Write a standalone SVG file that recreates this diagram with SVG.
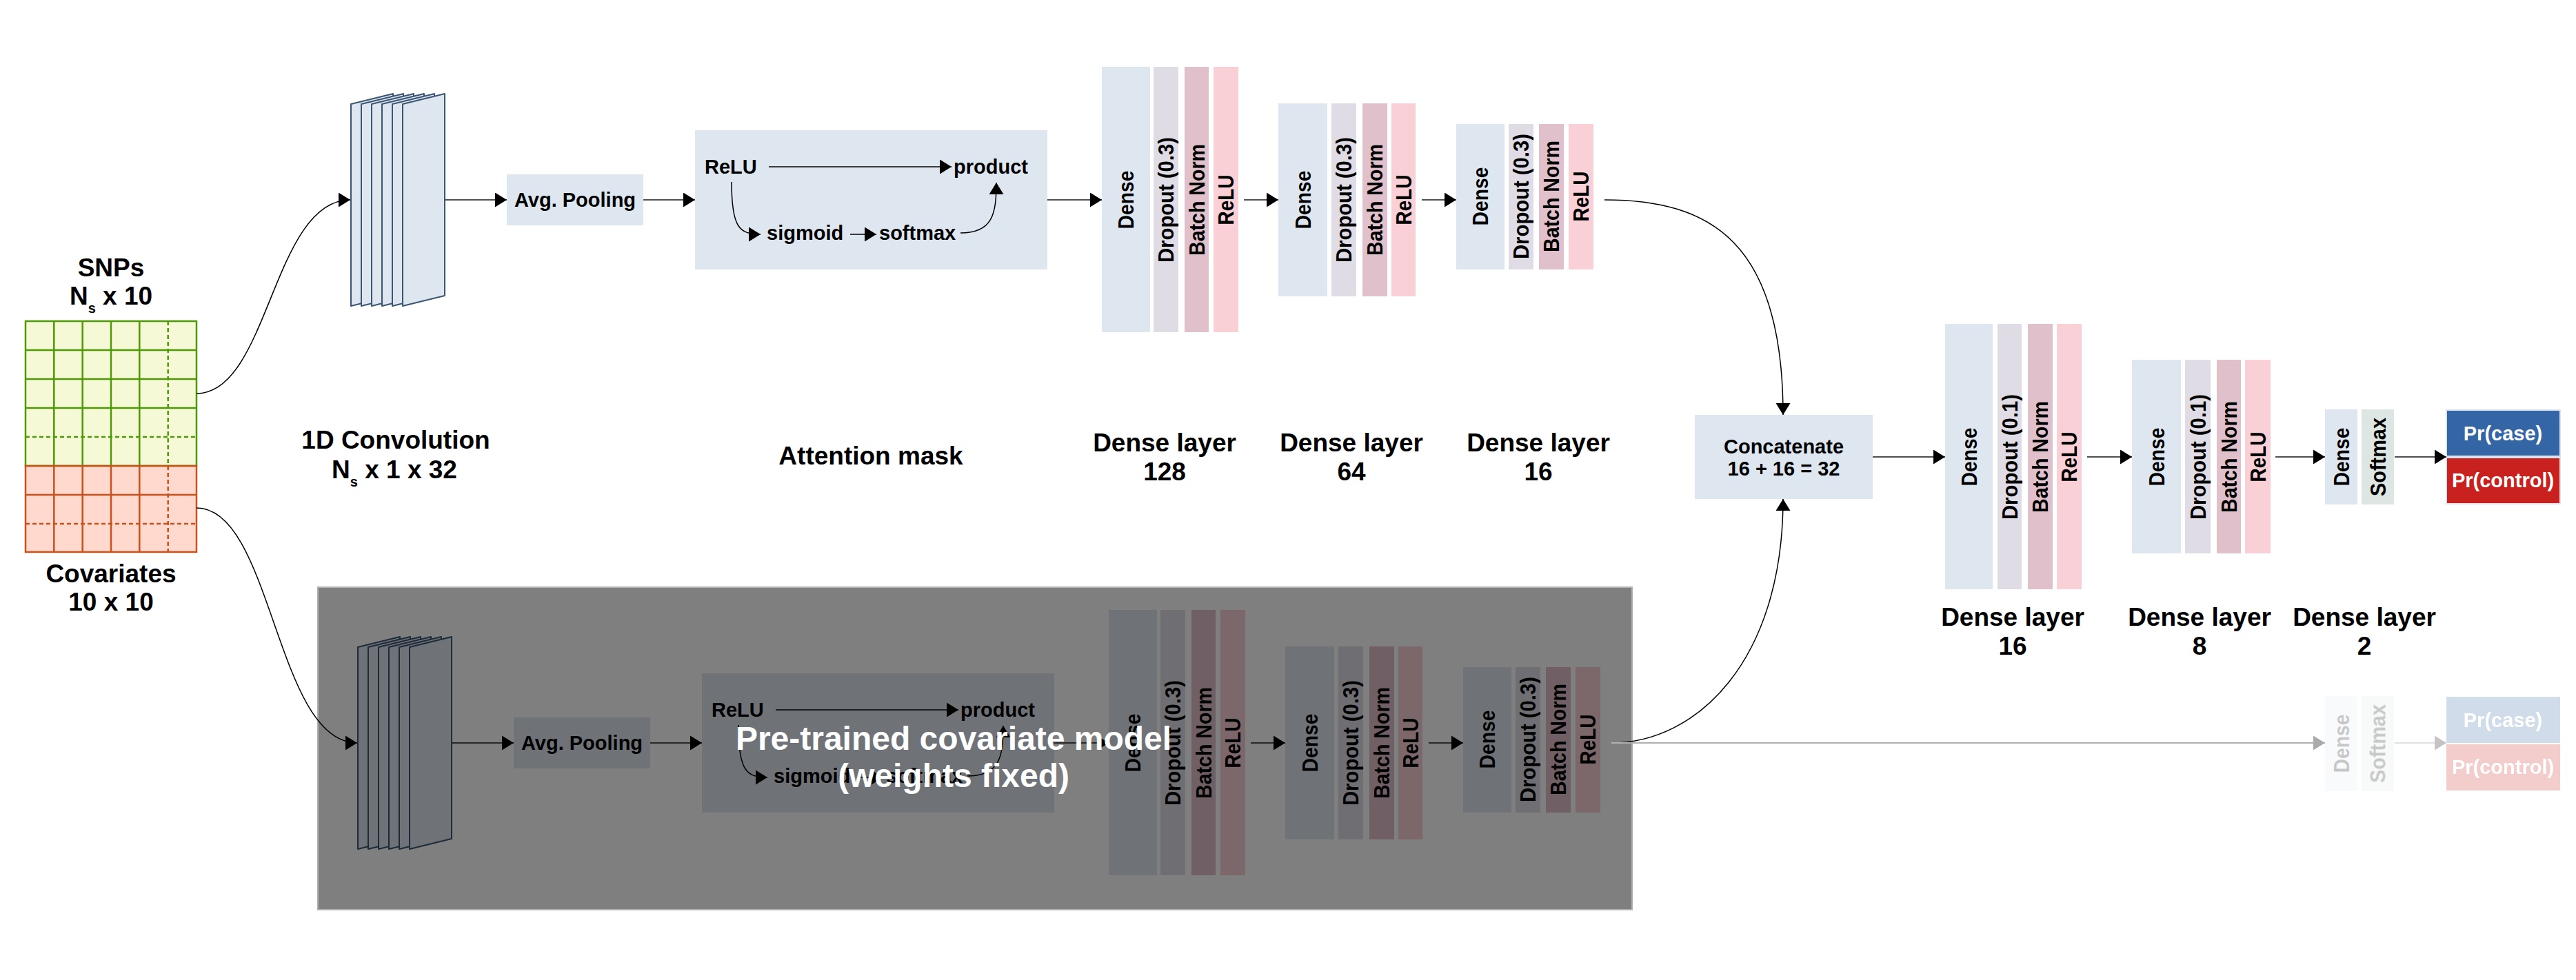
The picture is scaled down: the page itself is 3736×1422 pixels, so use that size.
<svg xmlns="http://www.w3.org/2000/svg" width="3736" height="1422" viewBox="0 0 3736 1422">
<defs>
<style>
text { font-family: "Liberation Sans", Arial, sans-serif; font-weight: bold; fill: #000; }
.lbl { font-size: 37px; text-anchor: middle; }
.in { font-size: 29px; }
.inc { font-size: 29px; text-anchor: middle; }
.vt { font-size: 31px; text-anchor: middle; }
.wt { fill: #fff; }
.dense { fill: #dee6ef; }
.drop { fill: #dfdce5; }
.bn { fill: #e0c1cb; }
.relu { fill: #f8d0d6; }
.soft { fill: #dde6e3; }
.box { fill: #dee6ef; }
.sheet { fill: #dee6ef; stroke: #3a5673; stroke-width: 2; stroke-linejoin: round; }
.ln { fill: none; stroke: #505050; stroke-width: 2; marker-end: url(#ah); }
.cv { fill: none; stroke: #000; stroke-width: 1.5; marker-end: url(#ah); }
.gline { fill: none; stroke: #b0b0b0; stroke-width: 2; marker-end: url(#ahg); }
.gr { stroke: #4e9a06; stroke-width: 2.5; fill: none; }
.rd { stroke: #c9511b; stroke-width: 2.5; fill: none; }
.dash { stroke-dasharray: 6 4; }
</style>
<marker id="ah" markerUnits="userSpaceOnUse" markerWidth="18" markerHeight="22" refX="17" refY="10.5" orient="auto">
<path d="M0,0 L17,10.5 L0,21 z" fill="#000"/>
</marker>
<marker id="ahg" markerUnits="userSpaceOnUse" markerWidth="18" markerHeight="22" refX="17" refY="10.5" orient="auto">
<path d="M0,0 L17,10.5 L0,21 z" fill="#aaaaaa"/>
</marker>
<marker id="ahl" markerUnits="userSpaceOnUse" markerWidth="18" markerHeight="22" refX="17" refY="10.5" orient="auto">
<path d="M0,0 L17,10.5 L0,21 z" fill="#c4c4c4"/>
</marker>
</defs>

<rect x="0" y="0" width="3736" height="1422" fill="#fff"/>

<!-- input matrix: SNPs (green) over covariates (red) -->
<g id="input">
<rect x="37" y="466" width="248" height="210" fill="#f6f9d5"/>
<rect x="37" y="676" width="248" height="125" fill="#ffd8ce"/>
<g class="gr">
<path d="M78.3,466V676M119.7,466V676M161,466V676M202.3,466V676"/>
<path d="M37,508H285M37,550H285M37,592H285"/>
<path class="dash" d="M243.7,466V676M37,634H285"/>
<rect x="37" y="466" width="248" height="210"/>
</g>
<g class="rd">
<path d="M78.3,676V801M119.7,676V801M161,676V801M202.3,676V801"/>
<path d="M37,718H285"/>
<path class="dash" d="M243.7,676V801M37,760H285"/>
<rect x="37" y="676" width="248" height="125"/>
</g>
<text class="lbl" x="161" y="401">SNPs</text>
<text class="lbl" x="161" y="442">N<tspan font-size="20" dy="12">s</tspan><tspan dy="-12"> x 10</tspan></text>
<text class="lbl" x="161" y="845">Covariates</text>
<text class="lbl" x="161" y="886">10 x 10</text>
</g>

<!-- SNP branch -->
<g id="conv">
<path class="sheet" d="M509,151L570,136V429L509,444z"/>
<path class="sheet" d="M524,151L585,136V429L524,444z"/>
<path class="sheet" d="M539,151L600,136V429L539,444z"/>
<path class="sheet" d="M554,151L615,136V429L554,444z"/>
<path class="sheet" d="M569,151L630,136V429L569,444z"/>
<path class="sheet" d="M584,151L645,136V429L584,444z"/>
</g>
<g id="conv-label">
<text class="lbl" x="574" y="651">1D Convolution</text>
<text class="lbl" x="572" y="694">N<tspan font-size="20" dy="12">s</tspan><tspan dy="-12"> x 1 x 32</tspan></text>
</g>
<g id="avgpool">
<rect class="box" x="735" y="253" width="198" height="74"/>
<text class="inc" x="834" y="300">Avg. Pooling</text>
</g>
<g id="attention">
<rect class="box" x="1008" y="189" width="511" height="202"/>
<text class="in" x="1022" y="252">ReLU</text>
<text class="in" x="1383" y="252">product</text>
<text class="in" x="1112" y="348">sigmoid</text>
<text class="in" x="1275" y="348">softmax</text>
<path class="cv" d="M1115,242H1380"/>
<path class="cv" d="M1061,264C1061,330 1072,340 1103,340"/>
<path class="cv" d="M1233,340H1271"/>
<path class="cv" d="M1393,338C1440,338 1445,310 1445,265"/>
<text class="lbl" x="1263" y="674">Attention mask</text>
</g>
<g id="dense128">
<rect class="dense" x="1598" y="97" width="70" height="385"/>
<rect class="drop" x="1673" y="97" width="36" height="385"/>
<rect class="bn" x="1718" y="97" width="35" height="385"/>
<rect class="relu" x="1760" y="97" width="36" height="385"/>
<text class="vt" x="1633" y="301" textLength="85" lengthAdjust="spacingAndGlyphs" transform="rotate(-90 1633 290)">Dense</text>
<text class="vt" x="1691" y="301" textLength="182" lengthAdjust="spacingAndGlyphs" transform="rotate(-90 1691 290)">Dropout (0.3)</text>
<text class="vt" x="1735.5" y="301" textLength="162" lengthAdjust="spacingAndGlyphs" transform="rotate(-90 1735.5 290)">Batch Norm</text>
<text class="vt" x="1778" y="301" textLength="73" lengthAdjust="spacingAndGlyphs" transform="rotate(-90 1778 290)">ReLU</text>
<text class="lbl" x="1689" y="655">Dense layer</text>
<text class="lbl" x="1689" y="697">128</text>
</g>
<g id="dense64">
<rect class="dense" x="1854" y="150" width="71" height="280"/>
<rect class="drop" x="1931" y="150" width="36" height="280"/>
<rect class="bn" x="1976" y="150" width="36" height="280"/>
<rect class="relu" x="2018" y="150" width="35" height="280"/>
<text class="vt" x="1889.5" y="301" textLength="85" lengthAdjust="spacingAndGlyphs" transform="rotate(-90 1889.5 290)">Dense</text>
<text class="vt" x="1949" y="301" textLength="182" lengthAdjust="spacingAndGlyphs" transform="rotate(-90 1949 290)">Dropout (0.3)</text>
<text class="vt" x="1994" y="301" textLength="162" lengthAdjust="spacingAndGlyphs" transform="rotate(-90 1994 290)">Batch Norm</text>
<text class="vt" x="2035.5" y="301" textLength="73" lengthAdjust="spacingAndGlyphs" transform="rotate(-90 2035.5 290)">ReLU</text>
<text class="lbl" x="1960" y="655">Dense layer</text>
<text class="lbl" x="1960" y="697">64</text>
</g>
<g id="dense16a">
<rect class="dense" x="2112" y="180" width="70" height="211"/>
<rect class="drop" x="2188" y="180" width="36" height="211"/>
<rect class="bn" x="2232" y="180" width="36" height="211"/>
<rect class="relu" x="2275" y="180" width="36" height="211"/>
<text class="vt" x="2147" y="296" textLength="85" lengthAdjust="spacingAndGlyphs" transform="rotate(-90 2147 285)">Dense</text>
<text class="vt" x="2206" y="296" textLength="182" lengthAdjust="spacingAndGlyphs" transform="rotate(-90 2206 285)">Dropout (0.3)</text>
<text class="vt" x="2250" y="296" textLength="162" lengthAdjust="spacingAndGlyphs" transform="rotate(-90 2250 285)">Batch Norm</text>
<text class="vt" x="2293" y="296" textLength="73" lengthAdjust="spacingAndGlyphs" transform="rotate(-90 2293 285)">ReLU</text>
<text class="lbl" x="2231" y="655">Dense layer</text>
<text class="lbl" x="2231" y="697">16</text>
</g>

<!-- covariate branch (frozen copy) -->
<g id="covariate-model" transform="translate(10 788)">
<g id="cov-conv">
<path class="sheet" d="M509,151L570,136V429L509,444z"/>
<path class="sheet" d="M524,151L585,136V429L524,444z"/>
<path class="sheet" d="M539,151L600,136V429L539,444z"/>
<path class="sheet" d="M554,151L615,136V429L554,444z"/>
<path class="sheet" d="M569,151L630,136V429L569,444z"/>
<path class="sheet" d="M584,151L645,136V429L584,444z"/>
</g>
<g id="cov-avgpool">
<rect class="box" x="735" y="253" width="198" height="74"/>
<text class="inc" x="834" y="300">Avg. Pooling</text>
</g>
<g id="cov-attention">
<rect class="box" x="1008" y="189" width="511" height="202"/>
<text class="in" x="1022" y="252">ReLU</text>
<text class="in" x="1383" y="252">product</text>
<text class="in" x="1112" y="348">sigmoid</text>
<text class="in" x="1275" y="348">softmax</text>
<path class="cv" d="M1115,242H1380"/>
<path class="cv" d="M1061,264C1061,330 1072,340 1103,340"/>
<path class="cv" d="M1233,340H1271"/>
<path class="cv" d="M1393,338C1440,338 1445,310 1445,265"/>
</g>
<g id="cov-dense128">
<rect class="dense" x="1598" y="97" width="70" height="385"/>
<rect class="drop" x="1673" y="97" width="36" height="385"/>
<rect class="bn" x="1718" y="97" width="35" height="385"/>
<rect class="relu" x="1760" y="97" width="36" height="385"/>
<text class="vt" x="1633" y="301" textLength="85" lengthAdjust="spacingAndGlyphs" transform="rotate(-90 1633 290)">Dense</text>
<text class="vt" x="1691" y="301" textLength="182" lengthAdjust="spacingAndGlyphs" transform="rotate(-90 1691 290)">Dropout (0.3)</text>
<text class="vt" x="1735.5" y="301" textLength="162" lengthAdjust="spacingAndGlyphs" transform="rotate(-90 1735.5 290)">Batch Norm</text>
<text class="vt" x="1778" y="301" textLength="73" lengthAdjust="spacingAndGlyphs" transform="rotate(-90 1778 290)">ReLU</text>
</g>
<g id="cov-dense64">
<rect class="dense" x="1854" y="150" width="71" height="280"/>
<rect class="drop" x="1931" y="150" width="36" height="280"/>
<rect class="bn" x="1976" y="150" width="36" height="280"/>
<rect class="relu" x="2018" y="150" width="35" height="280"/>
<text class="vt" x="1889.5" y="301" textLength="85" lengthAdjust="spacingAndGlyphs" transform="rotate(-90 1889.5 290)">Dense</text>
<text class="vt" x="1949" y="301" textLength="182" lengthAdjust="spacingAndGlyphs" transform="rotate(-90 1949 290)">Dropout (0.3)</text>
<text class="vt" x="1994" y="301" textLength="162" lengthAdjust="spacingAndGlyphs" transform="rotate(-90 1994 290)">Batch Norm</text>
<text class="vt" x="2035.5" y="301" textLength="73" lengthAdjust="spacingAndGlyphs" transform="rotate(-90 2035.5 290)">ReLU</text>
</g>
<g id="cov-dense16">
<rect class="dense" x="2112" y="180" width="70" height="211"/>
<rect class="drop" x="2188" y="180" width="36" height="211"/>
<rect class="bn" x="2232" y="180" width="36" height="211"/>
<rect class="relu" x="2275" y="180" width="36" height="211"/>
<text class="vt" x="2147" y="296" textLength="85" lengthAdjust="spacingAndGlyphs" transform="rotate(-90 2147 285)">Dense</text>
<text class="vt" x="2206" y="296" textLength="182" lengthAdjust="spacingAndGlyphs" transform="rotate(-90 2206 285)">Dropout (0.3)</text>
<text class="vt" x="2250" y="296" textLength="162" lengthAdjust="spacingAndGlyphs" transform="rotate(-90 2250 285)">Batch Norm</text>
<text class="vt" x="2293" y="296" textLength="73" lengthAdjust="spacingAndGlyphs" transform="rotate(-90 2293 285)">ReLU</text>
</g>
<g id="cov-connectors">
<path class="ln" d="M645,290H735"/>
<path class="ln" d="M933,290H1008"/>
<path class="ln" d="M1519,290H1598"/>
<path class="ln" d="M1804,290H1854"/>
<path class="ln" d="M2062,290H2112"/>
</g>
</g>

<!-- shade over the frozen model -->
<g id="frozen-shade">
<rect x="461" y="852" width="1906" height="468" fill="#000" fill-opacity="0.5" stroke="#b0b0b0" stroke-width="2"/>
<text class="wt" x="1383" y="1088" font-size="48" text-anchor="middle">Pre-trained covariate model</text>
<text class="wt" x="1383" y="1142" font-size="48" text-anchor="middle">(weights fixed)</text>
</g>

<!-- merged head -->
<g id="concat">
<rect class="box" x="2458" y="602" width="258" height="122"/>
<text class="inc" x="2587" y="658">Concatenate</text>
<text class="inc" x="2587" y="690">16 + 16 = 32</text>
</g>
<g id="dense16b">
<rect class="dense" x="2821" y="470" width="69" height="385"/>
<rect class="drop" x="2897" y="470" width="35" height="385"/>
<rect class="bn" x="2941" y="470" width="36" height="385"/>
<rect class="relu" x="2983" y="470" width="36" height="385"/>
<text class="vt" x="2855.5" y="674" textLength="85" lengthAdjust="spacingAndGlyphs" transform="rotate(-90 2855.5 663)">Dense</text>
<text class="vt" x="2914.5" y="674" textLength="182" lengthAdjust="spacingAndGlyphs" transform="rotate(-90 2914.5 663)">Dropout (0.1)</text>
<text class="vt" x="2959" y="674" textLength="162" lengthAdjust="spacingAndGlyphs" transform="rotate(-90 2959 663)">Batch Norm</text>
<text class="vt" x="3001" y="674" textLength="73" lengthAdjust="spacingAndGlyphs" transform="rotate(-90 3001 663)">ReLU</text>
<text class="lbl" x="2919" y="908">Dense layer</text>
<text class="lbl" x="2919" y="950">16</text>
</g>
<g id="dense8">
<rect class="dense" x="3092" y="522" width="71" height="281"/>
<rect class="drop" x="3169" y="522" width="37" height="281"/>
<rect class="bn" x="3215" y="522" width="35" height="281"/>
<rect class="relu" x="3256" y="522" width="37" height="281"/>
<text class="vt" x="3127.5" y="674" textLength="85" lengthAdjust="spacingAndGlyphs" transform="rotate(-90 3127.5 663)">Dense</text>
<text class="vt" x="3187.5" y="674" textLength="182" lengthAdjust="spacingAndGlyphs" transform="rotate(-90 3187.5 663)">Dropout (0.1)</text>
<text class="vt" x="3232.5" y="674" textLength="162" lengthAdjust="spacingAndGlyphs" transform="rotate(-90 3232.5 663)">Batch Norm</text>
<text class="vt" x="3274.5" y="674" textLength="73" lengthAdjust="spacingAndGlyphs" transform="rotate(-90 3274.5 663)">ReLU</text>
<text class="lbl" x="3190" y="908">Dense layer</text>
<text class="lbl" x="3190" y="950">8</text>
</g>
<g id="dense2">
<rect class="dense" x="3372" y="594" width="47" height="138"/>
<rect class="soft" x="3425" y="594" width="47" height="138"/>
<text class="vt" x="3395.5" y="674" textLength="85" lengthAdjust="spacingAndGlyphs" transform="rotate(-90 3395.5 663)">Dense</text>
<text class="vt" x="3448.5" y="674" textLength="114" lengthAdjust="spacingAndGlyphs" transform="rotate(-90 3448.5 663)">Softmax</text>
<text class="lbl" x="3429" y="908">Dense layer</text>
<text class="lbl" x="3429" y="950">2</text>
</g>
<g id="output">
<rect x="3548" y="595" width="165" height="67" fill="#3465a4" stroke="#dae3ee" stroke-width="2"/>
<rect x="3548" y="664" width="165" height="67" fill="#c9211e" stroke="#dae3ee" stroke-width="2"/>
<text class="inc wt" x="3630" y="639">Pr(case)</text>
<text class="inc wt" x="3630" y="707">Pr(control)</text>
</g>

<!-- covariate-only head (faded) -->
<g id="cov-head" opacity="0.22">
<rect class="dense" x="3372" y="1010" width="47" height="138"/>
<rect class="soft" x="3425" y="1010" width="47" height="138"/>
<text class="vt" x="3395.5" y="1090" textLength="85" lengthAdjust="spacingAndGlyphs" transform="rotate(-90 3395.5 1079)">Dense</text>
<text class="vt" x="3448.5" y="1090" textLength="114" lengthAdjust="spacingAndGlyphs" transform="rotate(-90 3448.5 1079)">Softmax</text>
</g>
<g id="cov-output" opacity="0.22">
<rect x="3548" y="1011" width="165" height="67" fill="#3465a4"/>
<rect x="3548" y="1080" width="165" height="67" fill="#c9211e"/>
</g>
<g id="cov-output-text">
<text class="inc wt" x="3630" y="1055">Pr(case)</text>
<text class="inc wt" x="3630" y="1123">Pr(control)</text>
</g>

<!-- connectors -->
<g id="connectors">
<path class="cv" d="M285,571C390,571 395,290 508,290"/>
<path class="cv" d="M285,737C395,737 400,1078 518,1078"/>
<path class="ln" d="M645,290H735"/>
<path class="ln" d="M933,290H1008"/>
<path class="ln" d="M1519,290H1598"/>
<path class="ln" d="M1804,290H1854"/>
<path class="ln" d="M2062,290H2112"/>
<path class="cv" d="M2327,290C2480,290 2586,350 2586,602"/>
<path class="cv" d="M2337,1078C2460,1078 2586,960 2586,724"/>
<path class="ln" d="M2716,663H2821"/>
<path class="ln" d="M3027,663H3092"/>
<path class="ln" d="M3300,663H3372"/>
<path class="ln" d="M3473,663H3548"/>
<path class="gline" d="M2337,1078H3372"/>
<path fill="none" stroke="#e0e0e0" stroke-width="2" marker-end="url(#ahl)" d="M3473,1078H3548"/>
</g>
</svg>
